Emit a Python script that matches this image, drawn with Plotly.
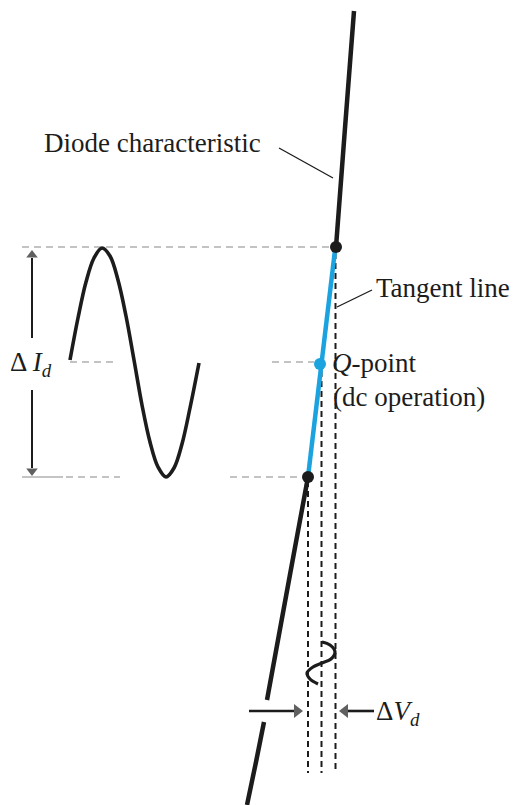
import plotly.graph_objects as go

# ---- geometry (pixel coordinates, y downward) ----
W, H = 519, 805
PAGE_MARGIN = 8  # browser body margin, compensated so 1 unit = 1 reference pixel

# diode characteristic (two black pieces, blue tangent between them)
diode_upper_x = [354, 345, 336]
diode_upper_y = [11, 128, 247]
diode_lower_x = [308, 289, 267]
diode_lower_y = [477, 580, 700]
diode_tail_x = [264, 256, 247]
diode_tail_y = [722, 762, 805]

# tangent line through the Q-point
tangent_x = [335, 321, 308]
tangent_y = [250, 365, 477]

# operating points
dot_x = [336, 308]
dot_y = [247, 477]
q_x = [320]
q_y = [364]

# ac current waveform (left)
sine_x = [70, 78, 86, 94, 102, 110, 118, 126, 134, 142, 150, 158, 166, 174, 182, 190, 199]
sine_y = [360, 318, 282, 258, 248, 256, 280, 316, 360, 405, 442, 467, 477, 468, 444, 408, 363]

# ac voltage waveform (small squiggle)
squig_x = [322, 330, 335, 331, 322, 313, 307, 310, 318]
squig_y = [642, 645, 652, 659, 663, 667, 673, 679, 684]

# vertical black dashed guides
vguide_x = [308, 321.5, 335.5]
vguide_top = [481, 371, 253]
vguide_bot = [773, 773, 770]

# grey horizontal dashed guides (segments)
hgrey_segments = [
    ([22, 329], [247, 247]),
    ([70, 118], [362, 362]),
    ([272, 314], [362, 362]),
    ([66, 120], [477, 477]),
    ([230, 302], [477, 477]),
]
hgrey_solid = ([22, 63], [477, 477])

# leader lines
leader_diode = ([279, 333], [148, 178])
leader_tangent = ([372, 337], [290, 307])

# arrows: shafts and heads
arrow_shafts = [
    ([32, 32], [258, 338]),
    ([32, 32], [390, 468]),
    ([249, 294], [711, 711]),
    ([374, 348], [711, 711]),
]
arrow_heads_x = [32, 32, 297, 345]
arrow_heads_y = [255, 471, 711, 711]
arrow_heads_sym = ["triangle-up", "triangle-down", "triangle-right", "triangle-left"]

# labels (x, y = left edge, vertical centre)
labels = [
    ("Diode characteristic", 43, 143),
    ("Tangent line", 375, 288),
    ("<i>Q</i>-point", 331, 363),
    ("(dc operation)", 332, 397),
    ("Δ <i>I</i><sub><i>d</i></sub>", 9, 364),
    ("Δ<i>V</i><sub><i>d</i></sub>", 375, 713),
]

BLACK = "#1c1c1c"
BLUE = "#1ba3e0"
GREY = "#b0b0b0"
FONT = "Liberation Serif"

fig = go.Figure()

def line(xs, ys, color=BLACK, width=4, dash=None, shape="linear"):
    fig.add_trace(go.Scatter(x=xs, y=ys, mode="lines",
                             line=dict(color=color, width=width, dash=dash, shape=shape),
                             hoverinfo="skip", showlegend=False))

# grey guides
for xs, ys in hgrey_segments:
    line(xs, ys, GREY, 1.5, "7px,5px")
line(hgrey_solid[0], hgrey_solid[1], GREY, 1.5)

# vertical dashed guides
for gx, t, b in zip(vguide_x, vguide_top, vguide_bot):
    line([gx, gx], [t, b], BLACK, 2, "6px,4px")

# diode curve
line(diode_upper_x, diode_upper_y, BLACK, 4.5, shape="spline")
line(diode_lower_x, diode_lower_y, BLACK, 4.5, shape="spline")
line(diode_tail_x, diode_tail_y, BLACK, 4.5, shape="spline")

# tangent
line(tangent_x, tangent_y, BLUE, 4.5)

# waveforms
line(sine_x, sine_y, BLACK, 3.6, shape="spline")
line(squig_x, squig_y, BLACK, 3.2, shape="spline")

# leaders
line(*leader_diode, BLACK, 1.3)
line(*leader_tangent, BLACK, 1.3)

# arrows
for i, (xs, ys) in enumerate(arrow_shafts):
    line(xs, ys, BLACK, 2 if i < 2 else 2.6)
fig.add_trace(go.Scatter(x=arrow_heads_x, y=arrow_heads_y, mode="markers",
                         marker=dict(color=BLACK, size=[10, 10, 12, 12], symbol=arrow_heads_sym,
                                     line=dict(width=0)),
                         hoverinfo="skip", showlegend=False))

# dots
fig.add_trace(go.Scatter(x=dot_x, y=dot_y, mode="markers",
                         marker=dict(color=BLACK, size=12), hoverinfo="skip", showlegend=False))
fig.add_trace(go.Scatter(x=q_x, y=q_y, mode="markers",
                         marker=dict(color=BLUE, size=12), hoverinfo="skip", showlegend=False))

# text labels
for txt, lx, ly in labels:
    fig.add_annotation(x=lx, y=ly, text=txt, showarrow=False, xanchor="left", yanchor="middle",
                       font=dict(family=FONT, size=27, color=BLACK), borderpad=0)

fig.update_layout(
    width=W - PAGE_MARGIN, height=H - PAGE_MARGIN, margin=dict(l=0, r=0, t=0, b=0),
    paper_bgcolor="white", plot_bgcolor="white",
    xaxis=dict(range=[PAGE_MARGIN, W], visible=False, fixedrange=True),
    yaxis=dict(range=[H, PAGE_MARGIN], visible=False, fixedrange=True),
)

fig.write_html("out.html")
